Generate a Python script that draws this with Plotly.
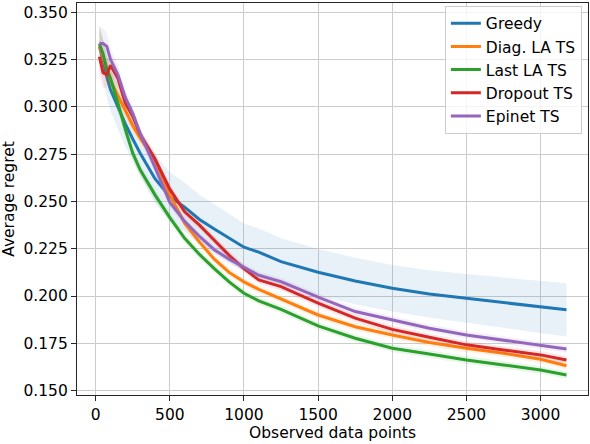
import plotly.graph_objects as go

# observed data points (x) and mean average regret per method
x_early = [25, 50, 75, 100, 150, 200, 250, 300, 400, 500, 600, 700, 800, 900, 1000, 1100]
x_late = [1250, 1500, 1750, 2000, 2250, 2500, 2750, 3000, 3175]
x_points = x_early + x_late

greedy = [0.332, 0.325, 0.316, 0.309, 0.300, 0.291, 0.283, 0.2755, 0.262, 0.2525, 0.247, 0.2405,
          0.2355, 0.2305, 0.2258, 0.2232,
          0.2182, 0.2126, 0.2080, 0.2041, 0.2011, 0.1988, 0.1965, 0.1944, 0.1927]
diag_la = [0.332, 0.326, 0.320, 0.314, 0.306, 0.298, 0.290, 0.2835, 0.272, 0.2535, 0.2385, 0.2285,
           0.2195, 0.2125, 0.2075, 0.2035,
           0.1983, 0.1900, 0.1838, 0.1794, 0.1754, 0.1724, 0.1698, 0.1666, 0.1632]
last_la = [0.3335, 0.328, 0.320, 0.315, 0.302, 0.288, 0.2755, 0.2667, 0.2535, 0.2415, 0.2305, 0.222,
           0.2145, 0.2075, 0.2015, 0.1975,
           0.1930, 0.1842, 0.1777, 0.1724, 0.1694, 0.1662, 0.1636, 0.1609, 0.1583]
dropout = [0.3265, 0.318, 0.317, 0.322, 0.315, 0.302, 0.295, 0.2855, 0.2725, 0.2565, 0.2445, 0.2375,
           0.2295, 0.2215, 0.2145, 0.2085,
           0.2050, 0.1962, 0.1883, 0.1824, 0.1782, 0.1742, 0.1715, 0.1689, 0.1662]
epinet = [0.3335, 0.3335, 0.332, 0.325, 0.317, 0.305, 0.2966, 0.286, 0.268, 0.2495, 0.2395, 0.2315,
          0.2245, 0.2195, 0.2152, 0.2110,
          0.2076, 0.1994, 0.1918, 0.1874, 0.1830, 0.1794, 0.1768, 0.1742, 0.1720]

# spread (shaded band half-width)
greedy_std = [0.011, 0.011, 0.011, 0.011, 0.012, 0.012, 0.012, 0.012, 0.013, 0.013, 0.013, 0.013,
              0.013, 0.0128, 0.0125, 0.0125,
              0.0124, 0.0123, 0.0123, 0.0123, 0.0125, 0.0128, 0.0132, 0.0137, 0.0141]
other_std = [0.009, 0.008, 0.007, 0.006, 0.005, 0.004, 0.0035, 0.003, 0.003, 0.0025, 0.0025, 0.0025,
             0.0022, 0.0022, 0.002, 0.002,
             0.002, 0.002, 0.002, 0.002, 0.002, 0.002, 0.002, 0.002, 0.002]

series = [
    ("Greedy", greedy, greedy_std, "31,119,180"),
    ("Diag. LA TS", diag_la, other_std, "255,127,14"),
    ("Last LA TS", last_la, other_std, "44,160,44"),
    ("Dropout TS", dropout, other_std, "214,39,40"),
    ("Epinet TS", epinet, other_std, "148,103,189"),
]

fig = go.Figure()
for name, mean, std, rgb in series:
    upper = [m + s for m, s in zip(mean, std)]
    lower = [m - s for m, s in zip(mean, std)]
    fig.add_trace(go.Scatter(x=x_points, y=upper, mode="lines", line=dict(width=0),
                             showlegend=False, hoverinfo="skip"))
    fig.add_trace(go.Scatter(x=x_points, y=lower, mode="lines", line=dict(width=0),
                             fill="tonexty", fillcolor="rgba(%s,0.1)" % rgb,
                             showlegend=False, hoverinfo="skip"))
    fig.add_trace(go.Scatter(x=x_points, y=mean, mode="lines", name=name,
                             line=dict(color="rgb(%s)" % rgb, width=3)))

axis_style = dict(showline=True, linecolor="#262626", linewidth=1.3, mirror=True,
                  showgrid=True, gridcolor="#cccccc", gridwidth=1.2, zeroline=False,
                  ticks="outside", ticklen=5, tickwidth=1.2, tickcolor="#262626",
                  tickfont=dict(size=15.5, color="black"), automargin=False)

fig.update_xaxes(range=[-126, 3320], tickvals=[0, 500, 1000, 1500, 2000, 2500, 3000],
                 title=dict(text="Observed data points", font=dict(size=15.5, color="black"), standoff=2),
                 **axis_style)
fig.update_yaxes(range=[0.1477, 0.3549], tickvals=[0.15, 0.175, 0.2, 0.225, 0.25, 0.275, 0.3, 0.325, 0.35],
                 tickformat=".3f",
                 title=dict(text="Average regret", font=dict(size=15.5, color="black"), standoff=4),
                 **axis_style)

fig.update_layout(
    width=590, height=444,
    margin=dict(l=77, r=2, t=3, b=49),
    plot_bgcolor="white", paper_bgcolor="white",
    font=dict(family="DejaVu Sans", size=15.5, color="black"),
    legend=dict(x=0.988, y=0.993, xanchor="right", yanchor="top", traceorder="normal",
                bgcolor="rgba(255,255,255,0.8)", bordercolor="#cccccc", borderwidth=1,
                font=dict(size=15.5), tracegroupgap=0, itemwidth=30),
    showlegend=True,
)

fig.write_html("out.html", config={"displayModeBar": False},
               post_script="document.body.style.margin='0';")
